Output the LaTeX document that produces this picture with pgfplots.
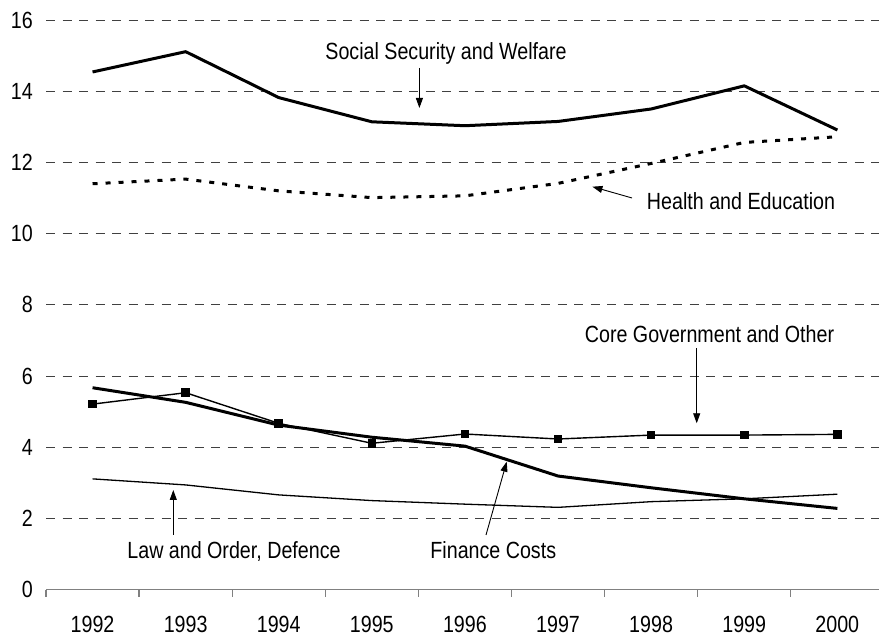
\documentclass[border=0pt]{standalone}
\usepackage{pgfplots}
\usepackage{pgfplotstable}
\pgfplotsset{compat=1.18}
\usepackage{fontspec}
\setmainfont[FakeStretch=0.84]{Liberation Sans}
\usetikzlibrary{arrows.meta}

% Government spending by function (per cent)
\pgfplotstableread{
year social health core finance law
1992 14.54 11.40 5.21 5.67 3.11
1993 15.11 11.53 5.53 5.26 2.94
1994 13.82 11.20 4.67 4.62 2.66
1995 13.14 11.01 4.11 4.28 2.50
1996 13.03 11.06 4.37 4.03 2.40
1997 13.15 11.41 4.23 3.19 2.31
1998 13.50 11.97 4.34 2.86 2.47
1999 14.15 12.56 4.34 2.55 2.55
2000 12.91 12.72 4.36 2.28 2.68
}\spending

\newcommand{\lbl}{\fontsize{23.5}{28}\selectfont}

\begin{document}
\begin{tikzpicture}[x=1bp,y=1bp]
\path[use as bounding box] (0,0) rectangle (879,639);
\begin{axis}[
  at={(46bp,49.4bp)}, anchor=south west,
  scale only axis, width=833bp, height=569.6bp,
  xmin=1991.5, xmax=2000.447, ymin=0, ymax=16,
  axis x line*=bottom, axis y line*=left,
  x axis line style={-, black!50, line width=1.5bp},
  y axis line style={draw=none},
  xtick={1992,...,2000},
  minor xtick={1991.5,1992.5,...,2000.5},
  ytick={2,4,...,16},
  extra y ticks={0},
  extra y tick style={grid=none},
  major tick length=0pt,
  minor tick length=7bp,
  tick align=outside,
  x tick style={black!50, line width=1.2bp},
  ymajorgrids,
  major grid style={black!75, line width=0.8bp, dash pattern=on 9bp off 7.5bp},
  /pgf/number format/1000 sep={},
  /pgf/number format/assume math mode=true,
  ticklabel style={font=\lbl},
  xticklabel style={anchor=base, yshift=-43.3bp},
  yticklabel style={anchor=east, inner sep=0pt, xshift=-13bp},
  clip=true,
]
\addplot[black, line width=3bp, line join=round] table[x=year,y=social]{\spending};
\addplot[black, line width=3bp, dash pattern=on 5bp off 8bp] table[x=year,y=health]{\spending};
\addplot[black, line width=1.4bp, mark=square*, mark size=3.6bp, mark options={solid}] table[x=year,y=core]{\spending};
\addplot[black, line width=3bp, line join=round] table[x=year,y=finance]{\spending};
\addplot[black, line width=1.3bp, line join=round] table[x=year,y=law]{\spending};
\end{axis}

% series labels with pointer arrows
\tikzset{pointer/.style={black, line width=0.9bp, -{Triangle[width=7bp,length=10bp]}}}
\node[anchor=base, inner sep=0pt, font=\lbl] at (446,579.7) {Social Security and Welfare};
\draw[pointer] (419.4,571) -- (419.4,531);

\node[anchor=base, inner sep=0pt, font=\lbl] at (741,429) {Health and Education};
\draw[pointer] (632,441) -- (592.4,452.3);

\node[anchor=base, inner sep=0pt, font=\lbl] at (709.5,296.7) {Core Government and Other};
\draw[pointer] (696.7,290.7) -- (696.7,215.7);

\node[anchor=base, inner sep=0pt, font=\lbl] at (234,80.7) {Law and Order, Defence};
\draw[pointer] (173.3,104) -- (173.3,149);

\node[anchor=base, inner sep=0pt, font=\lbl] at (493.3,80.7) {Finance Costs};
\draw[pointer] (486,104) -- (506.7,177.3);
\end{tikzpicture}
\end{document}
